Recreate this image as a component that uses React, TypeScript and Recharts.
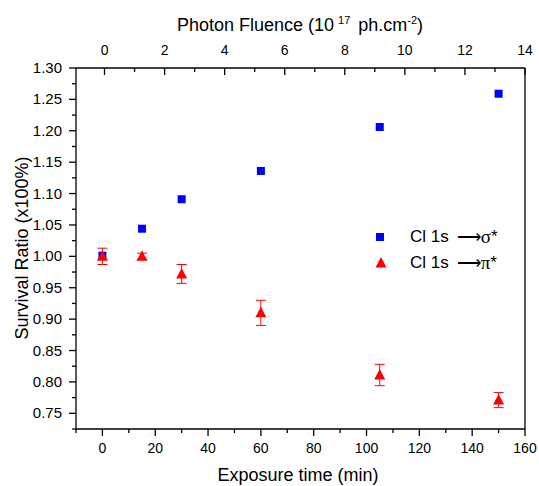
import {
  ErrorBar,
  Legend,
  ReferenceLine,
  Scatter,
  ScatterChart,
  XAxis,
  YAxis,
} from "recharts";

// exposure time of each measurement (min)
const timeMin = [0, 15, 30, 60, 105, 150];
const fluence = [0, 1.3, 2.6, 5.2, 9.1, 13.0];
// Cl 1s -> sigma* survival ratio
const sigmaRatio = [1.001, 1.044, 1.091, 1.136, 1.206, 1.259];
// Cl 1s -> pi* survival ratio and its error
const piRatio = [1.0, 1.0, 0.972, 0.91, 0.811, 0.771];
const piErr = [0.013, 0.005, 0.015, 0.02, 0.017, 0.012];

const timeTicks = [-10, 0, 10, 20, 30, 40, 50, 60, 70, 80, 90, 100, 110, 120, 130, 140, 150, 160];
const fluenceTicks = [0, 1, 2, 3, 4, 5, 6, 7, 8, 9, 10, 11, 12, 13, 14];
const fluenceMax = 14;
const ratioTicks = [
  0.725, 0.75, 0.775, 0.8, 0.825, 0.85, 0.875, 0.9, 0.925, 0.95, 0.975, 1.0, 1.025, 1.05,
  1.075, 1.1, 1.125, 1.15, 1.175, 1.2, 1.225, 1.25, 1.275, 1.3,
];

const sigmaData = timeMin.map((t, i) => ({ t, v: sigmaRatio[i] }));
const piData = timeMin.map((t, i) => ({ t, v: piRatio[i], err: piErr[i] }));
const fluenceData = fluence.map((f, i) => ({ f, v: sigmaRatio[i] }));

const BLUE = "#0000ff";
const RED = "#ff0000";
const AXIS = { stroke: "#000", strokeWidth: 1.3 };

function BottomTick(props: any) {
  const { x, y, payload } = props;
  const v = Number(payload.value);
  const major = v >= 0 && v % 20 === 0;
  return (
    <g>
      <line x1={x} x2={x} y1={y} y2={y + (major ? 7 : 4)} stroke="#000" strokeWidth={1.3} />
      {major && (
        <text x={x} y={y + 24} textAnchor="middle" fontSize={14} fill="#000">
          {String(v)}
        </text>
      )}
    </g>
  );
}

function TopTick(props: any) {
  const { x, y, payload } = props;
  const v = Number(payload.value);
  const major = v % 2 === 0;
  return (
    <g>
      <line x1={x} x2={x} y1={y} y2={y + (major ? 7 : 4)} stroke="#000" strokeWidth={1.3} />
      {major && v !== fluenceMax && (
        <text x={x} y={y - 13} textAnchor="middle" fontSize={14} fill="#000">
          {String(v)}
        </text>
      )}
    </g>
  );
}

function LeftTick(props: any) {
  const { x, y, payload } = props;
  const v = Number(payload.value);
  const major = Math.round(v * 1000) % 50 === 0;
  return (
    <g>
      <line x1={x - (major ? 7 : 4)} x2={x} y1={y} y2={y} stroke="#000" strokeWidth={1.3} />
      {major && (
        <text x={x - 14} y={y + 5} textAnchor="end" fontSize={15} fill="#000">
          {v.toFixed(2)}
        </text>
      )}
    </g>
  );
}

function Square(props: any) {
  const { cx, cy } = props;
  return <rect x={cx - 4} y={cy - 4} width={8} height={8} fill={BLUE} />;
}

function Triangle(props: any) {
  const { cx, cy } = props;
  return <polygon points={`${cx},${cy - 6} ${cx - 5.5},${cy + 4.5} ${cx + 5.5},${cy + 4.5}`} fill={RED} />;
}

function Nothing() {
  return <g />;
}

function LegendBox() {
  const row = { display: "flex", alignItems: "center", height: 26, fontSize: 17, color: "#000" } as const;
  const greek = { fontFamily: "'Liberation Serif', 'DejaVu Serif', serif", fontSize: 19 };
  return (
    <div style={{ fontFamily: "'Liberation Sans', Arial, sans-serif" }}>
      <div style={row}>
        <svg width={20} height={26}>
          <rect x={6} y={9} width={8} height={8} fill={BLUE} />
        </svg>
        <span style={{ marginLeft: 20 }}>Cl 1s</span>
        <span style={{ marginLeft: 8 }}>⟶</span>
        <span style={greek}>σ</span>
        <span>*</span>
      </div>
      <div style={row}>
        <svg width={20} height={26}>
          <polygon points="11,7 5.5,17.5 16.5,17.5" fill={RED} />
        </svg>
        <span style={{ marginLeft: 20 }}>Cl 1s</span>
        <span style={{ marginLeft: 8 }}>⟶</span>
        <span style={greek}>π</span>
        <span>*</span>
      </div>
    </div>
  );
}

export default function App() {
  return (
    <div
      style={{
        position: "absolute",
        left: 0,
        top: 0,
        width: 539,
        height: 486,
        background: "#fff",
        fontFamily: "'Liberation Sans', Arial, sans-serif",
      }}
    >
      <ScatterChart width={539} height={486} margin={{ top: 0, right: 14, bottom: 0, left: 0 }}>
        <XAxis
          xAxisId="b"
          dataKey="t"
          type="number"
          domain={[-10, 160]}
          allowDataOverflow
          ticks={timeTicks}
          interval={0}
          height={57}
          tickSize={0}
          tickMargin={0}
          tickLine={false}
          axisLine={AXIS}
          tick={<BottomTick />}
        />
        <XAxis
          xAxisId="top"
          dataKey="f"
          orientation="top"
          type="number"
          domain={[-0.95, fluenceMax]}
          allowDataOverflow
          ticks={fluenceTicks}
          interval={0}
          height={68}
          tickSize={0}
          tickMargin={0}
          tickLine={false}
          axisLine={AXIS}
          tick={<TopTick />}
        />
        <YAxis
          yAxisId="l"
          dataKey="v"
          type="number"
          domain={[0.725, 1.3]}
          allowDataOverflow
          ticks={ratioTicks}
          interval={0}
          width={76}
          tickSize={0}
          tickMargin={0}
          tickLine={false}
          axisLine={AXIS}
          tick={<LeftTick />}
        />
        <ReferenceLine xAxisId="b" yAxisId="l" x={160} stroke="#000" strokeWidth={1.3} />
        <ReferenceLine
          xAxisId="top"
          yAxisId="l"
          x={fluenceMax}
          stroke="none"
          label={{ value: String(fluenceMax), position: "top", offset: 13, fontSize: 14, fill: "#000" }}
        />
        <Scatter
          name="fluence"
          data={fluenceData}
          xAxisId="top"
          yAxisId="l"
          shape={<Nothing />}
          legendType="none"
          isAnimationActive={false}
        />
        <Scatter
          name="sigma"
          data={sigmaData}
          xAxisId="b"
          yAxisId="l"
          fill={BLUE}
          shape={<Square />}
          isAnimationActive={false}
        />
        <Scatter
          name="pi"
          data={piData}
          xAxisId="b"
          yAxisId="l"
          fill={RED}
          shape={<Triangle />}
          isAnimationActive={false}
        >
          <ErrorBar dataKey="err" direction="y" width={5} stroke={RED} strokeWidth={1} />
        </Scatter>
        <Legend
          layout="vertical"
          align="center"
          verticalAlign="middle"
          wrapperStyle={{ left: 370, top: 224, width: 160, height: 52 }}
          content={() => <LegendBox />}
        />
        <text x={300} y={31} textAnchor="middle" fontSize={18} fill="#000">
          Photon Fluence (10
          <tspan fontSize={11} dx={4} dy={-7}>17</tspan>
          <tspan dx={3} dy={7}> ph.cm</tspan>
          <tspan fontSize={11} dy={-7}>-2</tspan>
          <tspan dy={7}>)</tspan>
        </text>
        <text x={298} y={481} textAnchor="middle" fontSize={18} fill="#000">
          Exposure time (min)
        </text>
        <text
          x={-248}
          y={28}
          transform="rotate(-90)"
          textAnchor="middle"
          fontSize={18}
          fill="#000"
        >
          Survival Ratio (x100%)
        </text>
      </ScatterChart>
    </div>
  );
}
